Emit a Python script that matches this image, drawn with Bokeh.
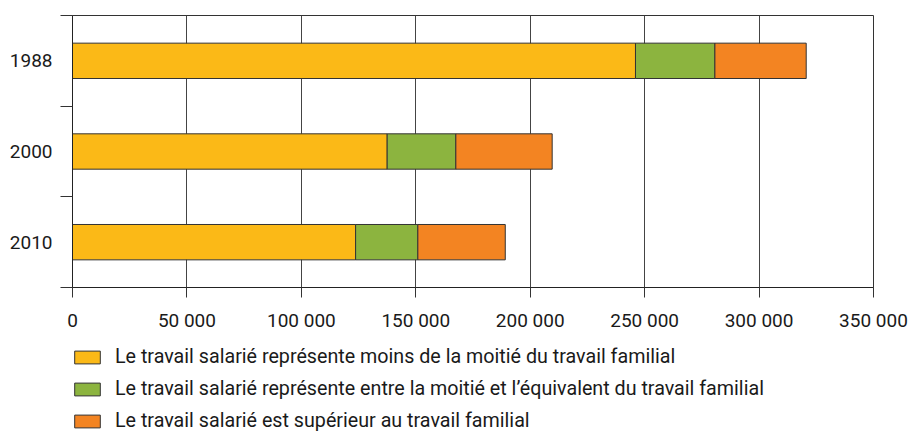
import numpy as np
from bokeh.plotting import figure
from bokeh.layouts import column
from bokeh.models import Range1d, FixedTicker, Legend, LegendItem
from bokeh.embed import file_html
from bokeh.resources import INLINE

years = ["1988", "2000", "2010"]
series_names = [
    "Le travail salarié représente moins de la moitié du travail familial",
    "Le travail salarié représente entre la moitié et l’équivalent du travail familial",
    "Le travail salarié est supérieur au travail familial",
]
moins_moitie = [246000, 137500, 123700]
entre_moitie_equiv = [34700, 30000, 27200]
superieur = [39900, 42100, 38200]
colors = ["#FBB917", "#8CB43F", "#F38422"]
x_ticks = [0, 50000, 100000, 150000, 200000, 250000, 300000, 350000]
x_tick_labels = ["0", "50 000", "100 000", "150 000", "200 000", "250 000", "300 000", "350 000"]

n = len(years)
y_pos = [n - i - 0.5 for i in range(n)]

p = figure(width=912, height=335, output_backend="svg", toolbar_location=None,
           x_range=Range1d(0, 350000), y_range=Range1d(0, n),
           min_border_left=72, min_border_right=39, min_border_top=15, min_border_bottom=48)
p.outline_line_color = "#333333"
p.background_fill_color = "white"
p.border_fill_color = "white"

series = [moins_moitie, entre_moitie_equiv, superieur]
cum = np.zeros(n)
for vals, col in zip(series, colors):
    left = cum.copy()
    right = cum + np.array(vals, dtype=float)
    p.hbar(y=y_pos, left=left, right=right, height=0.39, fill_color=col,
           line_color="#333333", line_width=1)
    cum = right

# x axis
xa = p.xaxis[0]
xa.ticker = FixedTicker(ticks=x_ticks)
xa.major_label_overrides = {t: l for t, l in zip(x_ticks, x_tick_labels)}
xa.major_tick_out = 10
xa.major_tick_in = 0
xa.minor_tick_line_color = None
xa.axis_line_color = "#222222"
xa.major_tick_line_color = "#333333"
xa.major_label_standoff = 11
xa.major_label_text_font = "Roboto"
xa.major_label_text_font_size = "19px"
xa.major_label_text_color = "#1a1a1a"

# y axis
ya = p.yaxis[0]
ya.ticker = FixedTicker(ticks=y_pos, minor_ticks=list(range(n + 1)))
ya.major_label_overrides = {y: l for y, l in zip(y_pos, years)}
ya.major_tick_out = 0
ya.major_tick_in = 0
ya.minor_tick_out = 12
ya.minor_tick_in = 0
ya.minor_tick_line_color = "#333333"
ya.axis_line_color = "#222222"
ya.major_label_standoff = 8
ya.major_label_text_font = "Roboto"
ya.major_label_text_font_size = "19px"
ya.major_label_text_color = "#1a1a1a"

p.xgrid.grid_line_color = "#444444"
p.xgrid.ticker = FixedTicker(ticks=x_ticks)
p.ygrid.grid_line_color = None

# legend figure (swatch renderers sit outside the visible range)
p2 = figure(width=912, height=97, output_backend="svg", toolbar_location=None,
            x_axis_type=None, y_axis_type=None,
            x_range=Range1d(0, 1), y_range=Range1d(0, 1),
            min_border_left=72, min_border_right=39, min_border_top=0, min_border_bottom=0)
p2.outline_line_color = None
p2.grid.visible = False
leg_renderers = []
for col in colors:
    r = p2.hbar(y=[-5], left=[0], right=[1], height=0.39, fill_color=col,
                line_color="#333333", line_width=1)
    leg_renderers.append(r)

legend = Legend(items=[LegendItem(label=nm, renderers=[r]) for nm, r in zip(series_names, leg_renderers)],
                location=(-1, 0), orientation="vertical",
                border_line_color=None, background_fill_alpha=0,
                padding=0, margin=0, glyph_width=32, glyph_height=16,
                label_height=16, spacing=9, label_standoff=12,
                label_text_font="Roboto", label_text_font_size="19.7px",
                label_text_color="#1a1a1a")
p2.add_layout(legend, "center")

layout = column(p, p2, spacing=0)
open("out.html", "w").write(file_html(layout, INLINE))
